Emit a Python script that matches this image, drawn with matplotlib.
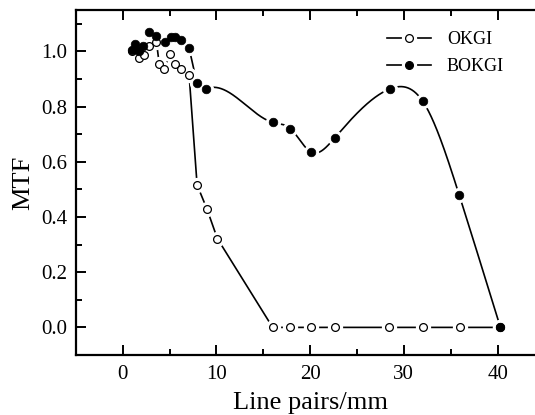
import numpy as np
import matplotlib
matplotlib.use("Agg")
import matplotlib.pyplot as plt
from matplotlib.lines import Line2D
from matplotlib.legend_handler import HandlerTuple
from matplotlib.ticker import MultipleLocator

plt.rcParams['font.family'] = ['Liberation Serif', 'DejaVu Serif']

# ---- data ----
okgi_x = [1.0, 1.72, 2.25, 2.82, 3.6, 3.9, 4.42, 5.03, 5.56, 6.27, 7.09, 7.94, 8.98, 10.1,
          16.0, 17.9, 20.1, 22.6, 28.4, 32.0, 36.0, 40.3]
okgi_y = [1.0, 0.977, 0.988, 1.02, 1.035, 0.955, 0.935, 0.99, 0.955, 0.937, 0.913, 0.516, 0.43, 0.322,
          0.0, 0.0, 0.0, 0.0, 0.0, 0.0, 0.0, 0.0]

bokgi_x = [1.04, 1.36, 1.75, 2.18, 2.82, 3.6, 4.5, 5.13, 5.56, 6.27, 7.05, 7.94, 8.94,
           16.0, 17.9, 20.1, 22.6, 28.5, 32.0, 35.9, 40.3]
bokgi_y = [1.004, 1.027, 1.0, 1.02, 1.07, 1.055, 1.034, 1.052, 1.052, 1.043, 1.012, 0.887, 0.865,
           0.743, 0.72, 0.635, 0.686, 0.864, 0.82, 0.48, 0.0]

x_ticks = [0, 10, 20, 30, 40]
y_ticks = [0.0, 0.2, 0.4, 0.6, 0.8, 1.0]


def natural_spline(x, y, n=2000):
    x = np.asarray(x, float)
    y = np.asarray(y, float)
    m = len(x)
    h = np.diff(x)
    A = np.zeros((m, m))
    r = np.zeros(m)
    A[0, 0] = 1
    A[-1, -1] = 1
    for i in range(1, m - 1):
        A[i, i - 1] = h[i - 1]
        A[i, i] = 2 * (h[i - 1] + h[i])
        A[i, i + 1] = h[i]
        r[i] = 6 * ((y[i + 1] - y[i]) / h[i] - (y[i] - y[i - 1]) / h[i - 1])
    M = np.linalg.solve(A, r)
    xs = np.linspace(x[0], x[-1], n)
    idx = np.clip(np.searchsorted(x, xs) - 1, 0, m - 2)
    x0, x1 = x[idx], x[idx + 1]
    hh = x1 - x0
    a = (x1 - xs) / hh
    b = (xs - x0) / hh
    ys = a * y[idx] + b * y[idx + 1] + ((a ** 3 - a) * M[idx] + (b ** 3 - b) * M[idx + 1]) * hh ** 2 / 6
    return xs, ys


fig = plt.figure(figsize=(5.35, 4.15), dpi=100)
ax = fig.add_axes([0.1417, 0.1446, 0.876, 0.8313])

lw = 1.2
ms = 5.6
halo = 10.0

sx, sy = natural_spline(bokgi_x, bokgi_y)
ax.plot(sx, sy, color='black', lw=lw, zorder=2)
ax.plot(okgi_x, okgi_y, color='black', lw=lw, zorder=2)

# gaps around markers
ax.plot(bokgi_x, bokgi_y, ls='none', marker='o', ms=halo, mfc='white', mec='white', zorder=3)
ax.plot(okgi_x, okgi_y, ls='none', marker='o', ms=halo, mfc='white', mec='white', zorder=3)

ax.plot(okgi_x, okgi_y, ls='none', marker='o', ms=ms, mfc='white', mec='black', mew=0.9, zorder=4)
ax.plot(bokgi_x, bokgi_y, ls='none', marker='o', ms=ms + 0.6, mfc='black', mec='black', mew=0.5, zorder=5)

ax.set_xlim(-5, 45)
ax.set_ylim(-0.1, 1.15)
ax.set_xticks(x_ticks)
ax.set_yticks(y_ticks)
ax.xaxis.set_minor_locator(MultipleLocator(5))
ax.yaxis.set_minor_locator(MultipleLocator(0.1))
ax.set_yticklabels([f"{v:.1f}" for v in y_ticks])

ax.tick_params(which='both', direction='in', top=True, right=False, width=1.4, labelsize=15)
ax.tick_params(which='major', length=7)
ax.tick_params(which='minor', length=4)
ax.tick_params(axis='x', pad=7)
ax.tick_params(axis='y', pad=6)
for s in ax.spines.values():
    s.set_linewidth(1.6)
ax.spines['right'].set_visible(False)

ax.set_xlabel('Line pairs/mm', fontsize=19, labelpad=6)
ax.set_ylabel('MTF', fontsize=19, labelpad=5)


def handle(filled):
    ln = Line2D([], [], color='black', lw=lw)
    h = Line2D([], [], ls='none', marker='o', ms=halo, mfc='white', mec='white')
    mk = Line2D([], [], ls='none', marker='o', ms=ms, mfc='black' if filled else 'white',
                mec='black', mew=0.9)
    return (ln, h, mk)


leg = ax.legend([handle(False), handle(True)], ['OKGI', 'BOKGI'],
                handler_map={tuple: HandlerTuple(ndivide=1, pad=0)},
                loc='upper left', bbox_to_anchor=(0.63, 0.985), frameon=False,
                fontsize=13, handlelength=2.4, handletextpad=0.9, labelspacing=0.55)

fig.savefig('out.png', dpi=100)
